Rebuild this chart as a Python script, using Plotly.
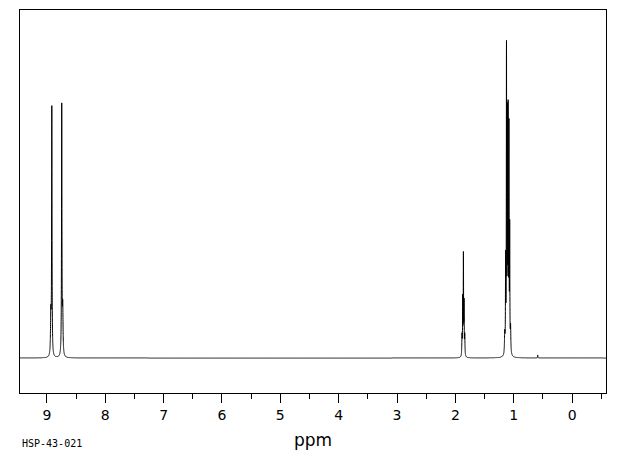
import numpy as np
import plotly.graph_objects as go

# Peak list (ppm, height in plot units, half-width ppm)
peak_ppm = [8.932, 8.915, 8.745, 8.728,
            1.887, 1.875, 1.863, 1.852, 1.840,
            1.155, 1.140, 1.125, 1.110, 1.097, 1.083, 1.070, 1.055,
            0.59]
peak_height = [40, 248, 250, 45,
               20, 55, 99, 50, 20,
               20, 90, 302, 228, 232, 218, 120, 25,
               3]
peak_width = [0.006, 0.004, 0.004, 0.006,
              0.004, 0.003, 0.003, 0.003, 0.004,
              0.005, 0.003, 0.003, 0.003, 0.003, 0.003, 0.003, 0.005,
              0.003]

tick_vals = [9, 8, 7, 6, 5, 4, 3, 2, 1, 0]
tick_text = ["9", "8", "7", "6", "5", "4", "3", "2", "1", "0"]

x_range = [9.46, -0.58]
y_range = [-35, 348]

ppm = np.linspace(x_range[0], x_range[1], 24000)
intensity = np.zeros_like(ppm)
for p, h, w in zip(peak_ppm, peak_height, peak_width):
    intensity += h * w**2 / ((ppm - p)**2 + w**2)

fig = go.Figure()
fig.add_trace(go.Scatter(x=ppm, y=intensity, mode="lines",
                         line=dict(color="black", width=1, simplify=False),
                         hoverinfo="skip", showlegend=False))

fig.update_layout(
    width=612, height=447,
    margin=dict(l=12, r=14, t=2, b=62),
    paper_bgcolor="white", plot_bgcolor="white",
    font=dict(family="DejaVu Sans", color="black"),
    xaxis=dict(range=x_range, tickvals=tick_vals, ticktext=tick_text,
               ticks="outside", ticklen=9, tickwidth=1, tickcolor="black",
               showline=True, linecolor="black", linewidth=1, mirror=True,
               showgrid=False, zeroline=False,
               tickfont=dict(size=14, family="DejaVu Sans", color="black"),
               minor=dict(dtick=0.5, tick0=0, ticks="outside", ticklen=5,
                          tickcolor="black", tickwidth=1, showgrid=False)),
    yaxis=dict(range=y_range, showticklabels=False, ticks="",
               showline=True, linecolor="black", linewidth=1, mirror=True,
               showgrid=False, zeroline=False),
    annotations=[
        dict(text="ppm", x=0.5, y=0, xref="paper", yref="paper",
             xanchor="center", yanchor="middle", yshift=-47, showarrow=False,
             font=dict(size=17, family="DejaVu Sans", color="black")),
        dict(text="HSP-43-021", x=0, y=0, xref="paper", yref="paper",
             xanchor="left", yanchor="middle", yshift=-50, showarrow=False,
             font=dict(size=10, family="DejaVu Sans Mono", color="black")),
    ],
)

fig.write_html("out.html")
